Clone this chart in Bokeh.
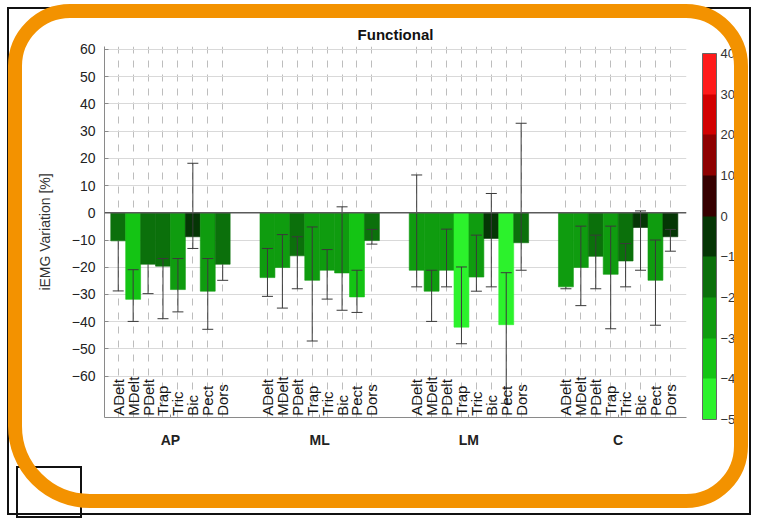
import math
from bokeh.plotting import figure
from bokeh.models import (ColumnDataSource, LinearColorMapper, ColorBar,
                          FixedTicker, Span, Range1d, Div)
from bokeh.transform import transform
from bokeh.layouts import column
from bokeh.embed import file_html
from bokeh.resources import INLINE
from bokeh.core.properties import value

# ---------------- data ----------------
groups = ["AP", "ML", "LM", "C"]
muscles = ["ADelt", "MDelt", "PDelt", "Trap", "Tric", "Bic", "Pect", "Dors"]

ap_mean = [-10.3, -31.8, -18.9, -19.6, -28.2, -8.8, -28.8, -18.9]
ap_lo = [-28.7, -39.9, -29.7, -38.9, -36.4, -13.1, -42.8, -24.8]
ap_hi = [None, -20.9, None, -16.8, -16.8, 18.2, -16.8, None]

ml_mean = [-23.8, -20.1, -15.8, -24.8, -21.1, -22.1, -30.9, -10.2]
ml_lo = [-30.7, -35.0, -27.9, -47.1, -31.7, -35.8, -36.6, -11.5]
ml_hi = [-13.1, -8.0, -8.8, -5.2, -13.5, 2.2, -21.1, -6.1]

lm_mean = [-21.1, -28.8, -21.1, -42.0, -23.6, -9.4, -41.1, -11.0]
lm_lo = [-27.2, -39.9, -27.2, -48.1, -28.8, -27.2, -70.0, -21.1]
lm_hi = [13.9, -21.1, -6.0, -19.9, -8.2, 7.1, -22.0, 32.9]

c_mean = [-27.2, -20.1, -16.0, -22.6, -17.7, -5.4, -24.8, -8.8]
c_lo = [-27.9, -34.1, -27.9, -42.6, -27.2, -21.1, -41.3, -14.1]
c_hi = [None, -4.9, -8.2, -4.9, -11.3, 0.7, -10.0, -6.1]

y_ticks = [-60, -50, -40, -30, -20, -10, 0, 10, 20, 30, 40, 50, 60]
color_ticks = [-50, -40, -30, -20, -10, 0, 10, 20, 30, 40]
palette = ["#2cf22c", "#14c414", "#0f9c0f", "#0b700b", "#053605",
           "#360000", "#8e0000", "#d20000", "#ff1a1a"]

# ---------------- build table ----------------
means = [ap_mean, ml_mean, lm_mean, c_mean]
los = [ap_lo, ml_lo, lm_lo, c_lo]
his = [ap_hi, ml_hi, lm_hi, c_hi]
BAR_STEP = 0.1

xs, vals, lo_l, top_l, names = [], [], [], [], []
cap_x, cap_y = [], []
for gi, g in enumerate(groups):
    for mi, m in enumerate(muscles):
        xx = gi + 1 + (mi - 3.5) * BAR_STEP
        v = means[gi][mi]
        lo = los[gi][mi]
        hi = his[gi][mi]
        xs.append(xx)
        vals.append(v)
        lo_l.append(lo)
        top_l.append(hi if hi is not None else v)
        names.append(m)
        cap_x.append(xx)
        cap_y.append(lo)
        if hi is not None:
            cap_x.append(xx)
            cap_y.append(hi)

src = ColumnDataSource(dict(x=xs, val=vals, lo=lo_l, top=top_l, name=names))
caps = ColumnDataSource(dict(x=cap_x, y=cap_y))

mapper = LinearColorMapper(palette=palette, low=-50, high=40)

FONT = "Liberation Sans"

p = figure(width=740, height=504, output_backend="svg", toolbar_location=None,
           x_range=Range1d(0.558, 4.458), y_range=Range1d(-75.2, 61.1),
           min_border_left=95, min_border_right=63, min_border_top=37,
           min_border_bottom=96, title="Functional")

p.title.text_font = FONT
p.title.text_font_size = "15px"
p.title.text_font_style = "bold"
p.title.align = "center"
p.title.text_color = "#111111"
p.title.standoff = 8

p.outline_line_color = None
p.background_fill_color = "white"
p.border_fill_color = "white"

# grids
p.ygrid.grid_line_color = "#d9d9d9"
p.ygrid.grid_line_width = 1
p.xgrid.ticker = FixedTicker(ticks=xs)
p.xgrid.grid_line_color = "#bdbdbd"
p.xgrid.grid_line_dash = "7 7"
p.xgrid.grid_line_width = 1

# axes
p.yaxis.ticker = FixedTicker(ticks=y_ticks)
p.yaxis.axis_label = "iEMG Variation [%]"
p.yaxis.axis_label_text_font = FONT
p.yaxis.axis_label_text_font_style = "normal"
p.yaxis.axis_label_text_font_size = "14px"
p.yaxis.axis_label_text_color = "#333333"
p.yaxis.axis_label_standoff = 16
p.yaxis.major_label_text_font = FONT
p.yaxis.major_label_text_font_size = "14px"
p.yaxis.major_label_text_color = "#222222"
p.yaxis.major_label_standoff = 9
p.yaxis.major_tick_in = 4
p.yaxis.major_tick_out = 0
p.yaxis.minor_tick_line_color = None
p.yaxis.axis_line_color = "#8a8a8a"
p.yaxis.major_tick_line_color = "#8a8a8a"

p.xaxis.ticker = FixedTicker(ticks=[1, 2, 3, 4])
p.xaxis.major_label_overrides = {i + 1: g for i, g in enumerate(groups)}
p.xaxis.major_label_text_font = FONT
p.xaxis.major_label_text_font_size = "14px"
p.xaxis.major_label_text_font_style = "bold"
p.xaxis.major_label_text_color = "#222222"
p.xaxis.major_label_standoff = 14
p.xaxis.major_tick_in = 3
p.xaxis.major_tick_out = 0
p.xaxis.minor_tick_line_color = None
p.xaxis.axis_line_color = "#8a8a8a"
p.xaxis.major_tick_line_color = "#8a8a8a"

# bars
p.vbar(x="x", top="val", bottom=0, width=BAR_STEP, source=src,
       fill_color=transform("val", mapper), line_color=transform("val", mapper),
       line_width=0.6)

# zero line
p.add_layout(Span(location=0, dimension="width", line_color="#5a5a5a", line_width=1.5))

# error bars
p.segment(x0="x", y0="lo", x1="x", y1="top", source=src,
          line_color="#3a3a3a", line_width=1)
p.scatter(x="x", y="y", source=caps, marker="dash", size=11,
          line_color="#3a3a3a", line_width=1)

# muscle labels
p.text(x="x", y=-74.6, text="name", source=src, angle=math.pi / 2,
       text_align="left", text_baseline="middle",
       text_font=value(FONT), text_font_size="15px", text_color="#151515")

# colour bar
cb = ColorBar(color_mapper=mapper, ticker=FixedTicker(ticks=color_ticks),
              width=14, height=366, padding=0, margin=0,
              location=(16, -2), label_standoff=4,
              major_label_text_font=FONT, major_label_text_font_size="13px",
              major_label_text_color="#333333",
              major_tick_line_color=None, bar_line_color="#666666",
              background_fill_color=None)
p.add_layout(cb, "right")

# small panel-label box at the lower left (sits under the orange frame)
corner_box = Div(text="", margin=0, styles={
    "position": "absolute", "left": "7px", "top": "457px",
    "width": "66px", "height": "52px", "box-sizing": "border-box",
    "border": "2px solid #111111", "background": "transparent",
    "pointer-events": "none", "z-index": "1"})

# orange rounded highlight frame drawn over the chart
orange_frame = Div(text="", margin=0, styles={
    "position": "absolute", "left": "-1px", "top": "-5px",
    "width": "744px", "height": "513px", "box-sizing": "border-box",
    "border": "14px solid #f39200", "border-radius": "62px 62px 62px 82px",
    "background": "transparent", "pointer-events": "none", "z-index": "20"})

outer = column(p, corner_box, orange_frame,
               styles={"position": "relative", "border": "2px solid #111111",
                       "margin-left": "7px", "margin-top": "7px"})

open("out.html", "w").write(file_html(outer, INLINE))
